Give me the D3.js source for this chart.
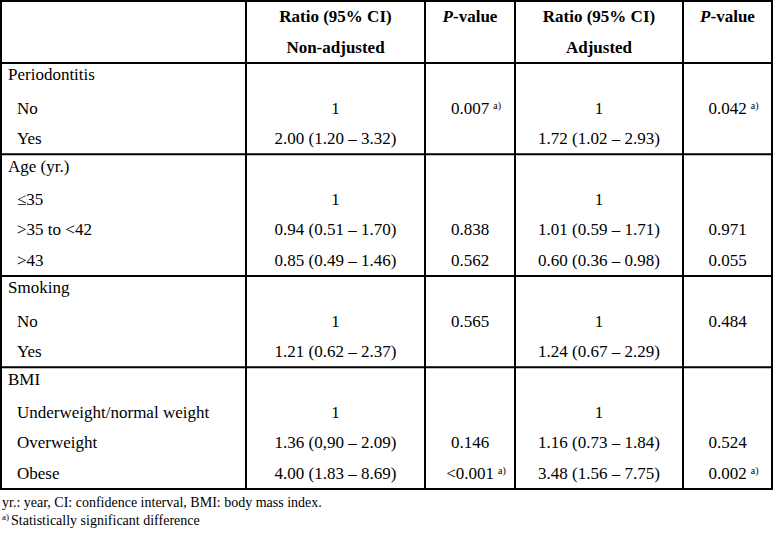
<!DOCTYPE html>
<html><head><meta charset="utf-8">
<script src="https://cdn.jsdelivr.net/npm/d3@7"></script>
<style>body{margin:0;background:#fff}svg{display:block}</style>
</head><body>
<svg id="c" width="774" height="534"></svg>
<script>
// ---- data ----
const headers1 = ["", "Ratio (95% CI)", "P-value", "Ratio (95% CI)", "P-value"];
const headers2 = ["", "Non-adjusted", "", "Adjusted", ""];
const groups = ["Periodontitis", "Age (yr.)", "Smoking", "BMI"];
const rowGroup = [0,0,0, 1,1,1,1, 2,2,2, 3,3,3,3];
const rowLabels = ["Periodontitis","No","Yes","Age (yr.)","≤35",">35 to <42",">43","Smoking","No","Yes","BMI","Underweight/normal weight","Overweight","Obese"];
const isHeading = [1,0,0,1,0,0,0,1,0,0,1,0,0,0];
const ratioNonAdj = ["","1","2.00 (1.20 – 3.32)","","1","0.94 (0.51 – 1.70)","0.85 (0.49 – 1.46)","","1","1.21 (0.62 – 2.37)","","1","1.36 (0,90 – 2.09)","4.00 (1.83 – 8.69)"];
const pNonAdj = ["","0.007","","","","0.838","0.562","","0.565","","","","0.146","<0.001"];
const sigNonAdj = [0,1,0,0,0,0,0,0,0,0,0,0,0,1];
const ratioAdj = ["","1","1.72 (1.02 – 2.93)","","1","1.01 (0.59 – 1.71)","0.60 (0.36 – 0.98)","","1","1.24 (0.67 – 2.29)","","1","1.16 (0.73 – 1.84)","3.48 (1.56 – 7.75)"];
const pAdj = ["","0.042","","","","0.971","0.055","","0.484","","","","0.524","0.002"];
const sigAdj = [0,1,0,0,0,0,0,0,0,0,0,0,0,1];
const footnotes = ["yr.: year, CI: confidence interval, BMI: body mass index.", "Statistically significant difference"];

// ---- layout ----
const svg = d3.select("#c");
const font = "'Liberation Serif', 'Times New Roman', serif";
const colEdges = [1, 246, 425, 515, 683, 772];
const colIdx = d3.range(5);
const x0 = d3.scaleOrdinal().domain(colIdx).range(colEdges.slice(0,5));
const x1 = d3.scaleOrdinal().domain(colIdx).range(colEdges.slice(1));
const tableTop = 1, headerBottom = 63, bodyBottom = 489;
const y = d3.scaleBand().domain(d3.range(rowLabels.length)).range([headerBottom, bodyBottom]);

const g = svg.append("g").attr("font-family", font).attr("font-size", 17).attr("fill", "#000");

// header text
const hx = i => (x0(i) + x1(i)) / 2;
colIdx.forEach(i => {
  if (headers1[i]) {
    const t = g.append("text").attr("x", hx(i)).attr("y", 22).attr("text-anchor", "middle").attr("font-weight", "bold");
    if (headers1[i].startsWith("P-")) {
      t.append("tspan").attr("font-style", "italic").text("P");
      t.append("tspan").text(headers1[i].slice(1));
    } else t.text(headers1[i]);
  }
  if (headers2[i]) g.append("text").attr("x", hx(i)).attr("y", 53).attr("text-anchor", "middle").attr("font-weight", "bold").text(headers2[i]);
});

// body
const rows = g.selectAll("g.row").data(d3.range(rowLabels.length)).join("g").attr("class", "row")
  .attr("transform", r => `translate(0,${y(r) + y.bandwidth()/2 + 4})`);
rows.append("text").attr("x", r => isHeading[r] ? 8 : 17).attr("y", r => isHeading[r] ? -2 : 1).text(r => rowLabels[r]);
rows.append("text").attr("x", hx(1)).attr("y", 1).attr("text-anchor", "middle").text(r => ratioNonAdj[r]);
rows.append("text").attr("x", hx(3)).attr("y", 1).attr("text-anchor", "middle").text(r => ratioAdj[r]);
function pCell(col, vals, sig) {
  rows.each(function(r) {
    if (!vals[r]) return;
    const t = d3.select(this).append("text").attr("x", hx(col) + (sig[r] ? 6 : 0)).attr("y", 1).attr("text-anchor", "middle");
    t.append("tspan").text(vals[r]);
    if (sig[r]) t.append("tspan").attr("font-size", 10).attr("dy", -5).attr("dx", 4).text("a)");
  });
}
pCell(2, pNonAdj, sigNonAdj);
pCell(4, pAdj, sigAdj);

// lines
const lines = svg.append("g").attr("stroke", "#000").attr("stroke-width", 2);
const sectionEnds = groups.map((_, k) => {
  const rs = d3.range(rowLabels.length).filter(r => rowGroup[r] === k);
  return y(rs[rs.length - 1]) + y.bandwidth();
});
const hLines = [tableTop, headerBottom, ...sectionEnds];
lines.selectAll("line.h").data(hLines).join("line").attr("class", "h")
  .attr("x1", colEdges[0] - 1).attr("x2", colEdges[5] + 1).attr("y1", d => d).attr("y2", d => d);
lines.selectAll("line.v").data(colEdges).join("line").attr("class", "v")
  .attr("x1", d => d).attr("x2", d => d).attr("y1", tableTop).attr("y2", bodyBottom);

// footnotes
const f = svg.append("g").attr("font-family", font).attr("font-size", 14);
f.append("text").attr("x", 2).attr("y", 507).text(footnotes[0]);
const f2 = f.append("text").attr("x", 2).attr("y", 525);
f2.append("tspan").attr("font-size", 9).attr("dy", -5).text("a)");
f2.append("tspan").attr("dy", 5).attr("dx", 2).text(footnotes[1]);
</script>
</body></html>
